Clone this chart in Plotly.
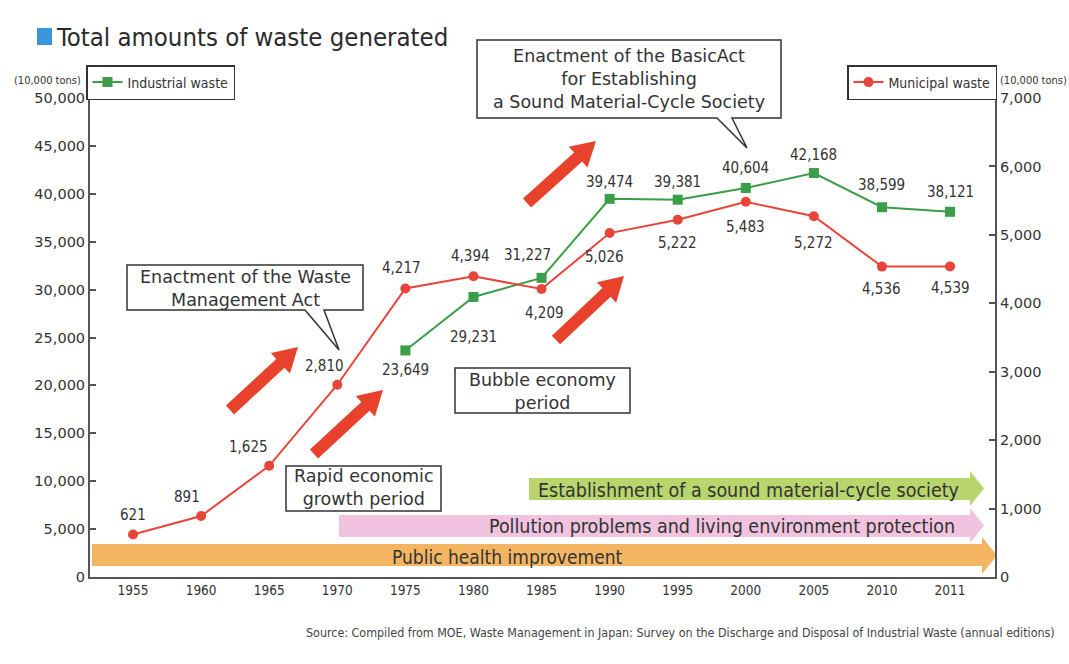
import math
import plotly.graph_objects as go

# ---------------- data ----------------
years = ["1955", "1960", "1965", "1970", "1975", "1980", "1985",
         "1990", "1995", "2000", "2005", "2010", "2011"]
municipal = [621, 891, 1625, 2810, 4217, 4394, 4209, 5026, 5222, 5483, 5272, 4536, 4539]
industrial_years = ["1975", "1980", "1985", "1990", "1995", "2000", "2005", "2010", "2011"]
industrial = [23649, 29231, 31227, 39474, 39381, 40604, 42168, 38599, 38121]
left_ticks = [0, 5000, 10000, 15000, 20000, 25000, 30000, 35000, 40000, 45000, 50000]
right_ticks = [0, 1000, 2000, 3000, 4000, 5000, 6000, 7000]

# label offsets (pixels) - styling only
mun_shift = [(0, 20), (-14, 19), (-21, 19), (-13, 19), (-4, 20), (-3, 20), (3, -24),
             (-5, -24), (0, -23), (0, -25), (0, -27), (0, -22), (0, -22)]
ind_shift = [(0, -20), (0, -40), (-14, 23), (0, 17), (0, 18), (0, 20), (0, 18), (0, 22), (0, 20)]

GREEN = "#3a9d48"
RED = "#e8453a"
TXT = "#333333"
COND = "DejaVu Sans Condensed, Liberation Sans Narrow, DejaVu Sans, sans-serif"
SANS = "DejaVu Sans, Verdana, sans-serif"

# plot-area pixel frame
L, R, T, B = 90, 995, 98, 577
W, H = 1069, 664


def px(x):
    return (x - L) / (R - L)


def py(y):
    return (B - y) / (B - T)


def path_from(pts):
    return "M " + " L ".join(f"{px(x):.5f},{py(y):.5f}" for x, y in pts) + " Z"


def diag_arrow(x0, y0, x1, y1, sw=12, hw=28, hl=24):
    dx, dy = x1 - x0, y1 - y0
    ln = math.hypot(dx, dy)
    ux, uy = dx / ln, dy / ln
    nx, ny = -uy, ux
    bx, by = x1 - ux * hl, y1 - uy * hl
    pts = [(x0 + nx * sw / 2, y0 + ny * sw / 2), (bx + nx * sw / 2, by + ny * sw / 2),
           (bx + nx * hw / 2, by + ny * hw / 2), (x1, y1),
           (bx - nx * hw / 2, by - ny * hw / 2), (bx - nx * sw / 2, by - ny * sw / 2),
           (x0 - nx * sw / 2, y0 - ny * sw / 2)]
    return path_from(pts)


def band_arrow(x0, xe, yt, yb, ht, hb, tip):
    pts = [(x0, yt), (xe, yt), (xe, ht), (tip, (ht + hb) / 2), (xe, hb), (xe, yb), (x0, yb)]
    return path_from(pts)


fig = go.Figure()

fig.add_trace(go.Scatter(
    x=industrial_years, y=industrial, name="Industrial waste", mode="lines+markers",
    line=dict(color=GREEN, width=2), marker=dict(symbol="square", size=10, color=GREEN),
    yaxis="y", legend="legend", showlegend=True, hoverinfo="skip"))
fig.add_trace(go.Scatter(
    x=years, y=municipal, name="Municipal waste", mode="lines+markers",
    line=dict(color=RED, width=2), marker=dict(symbol="circle", size=10, color=RED),
    yaxis="y2", legend="legend2", showlegend=True, hoverinfo="skip"))

shapes = []
# band arrows (behind)
shapes.append(dict(type="path", xref="paper", yref="paper", layer="below",
                   path=band_arrow(529, 970, 478, 500, 471, 506, 984),
                   fillcolor="#b9d56e", line=dict(width=0)))
shapes.append(dict(type="path", xref="paper", yref="paper", layer="below",
                   path=band_arrow(339, 970, 515, 537, 508, 543, 984),
                   fillcolor="#f1c3de", line=dict(width=0)))
shapes.append(dict(type="path", xref="paper", yref="paper", layer="below",
                   path=band_arrow(92, 982, 544, 566, 537, 574, 997),
                   fillcolor="#f4b562", line=dict(width=0)))
# red diagonal arrows
for (a, b, c, d) in [(230, 410, 298, 347), (314, 454, 383, 390),
                     (527, 203, 596, 141), (556, 340, 624, 276)]:
    shapes.append(dict(type="path", xref="paper", yref="paper",
                       path=diag_arrow(a, b, c, d), fillcolor="#e8412c", line=dict(width=0)))
# callout boxes
box_line = dict(color="#333333", width=1.5)
shapes.append(dict(type="path", xref="paper", yref="paper", fillcolor="white", line=box_line,
                   path=path_from([(127, 265), (363, 265), (363, 310), (324, 310), (339, 350),
                                   (305, 310), (127, 310)])))
shapes.append(dict(type="path", xref="paper", yref="paper", fillcolor="white", line=box_line,
                   path=path_from([(477, 40), (781, 40), (781, 118), (732, 118), (747, 148),
                                   (717, 118), (477, 118)])))
shapes.append(dict(type="path", xref="paper", yref="paper", fillcolor="white", line=box_line,
                   path=path_from([(455, 368), (630, 368), (630, 413), (455, 413)])))
shapes.append(dict(type="path", xref="paper", yref="paper", fillcolor="white", line=box_line,
                   path=path_from([(286, 466), (441, 466), (441, 511), (286, 511)])))
# title square
shapes.append(dict(type="path", xref="paper", yref="paper", fillcolor="#3b97d9", line=dict(width=0),
                   path=path_from([(37, 28), (52, 28), (52, 45), (37, 45)])))

ann = []


def txt(x, y, s, size, family=SANS, xanchor="center", color=TXT):
    ann.append(dict(x=px(x), y=py(y), xref="paper", yref="paper", text=s, showarrow=False,
                    xanchor=xanchor, yanchor="middle", font=dict(size=size, family=family, color=color)))


# data labels (category axis -> use category index)
for i, v in enumerate(municipal):
    ann.append(dict(x=years.index(years[i]), y=v, xref="x", yref="y2", text=f"{v:,}",
                    showarrow=False, xshift=mun_shift[i][0], yshift=mun_shift[i][1],
                    font=dict(size=15, family=COND, color=TXT)))
for i, v in enumerate(industrial):
    ann.append(dict(x=years.index(industrial_years[i]), y=v, xref="x", yref="y", text=f"{v:,}",
                    showarrow=False, xshift=ind_shift[i][0], yshift=ind_shift[i][1],
                    font=dict(size=15, family=COND, color=TXT)))

# title
txt(54, 37, "Total amounts of waste generated", 25.5, family=COND, xanchor="left", color="#2b2b2b")
# unit labels
txt(47, 80, "(10,000 tons)", 11, family=COND)
txt(1033, 80, "(10,000 tons)", 11, family=COND)
# callout texts
CS = 17.5
txt(245, 288, "Enactment of the Waste<br>Management Act", CS)
txt(629, 79, "Enactment of the BasicAct<br>for Establishing<br>a Sound Material-Cycle Society", CS)
txt(542, 391, "Bubble economy<br>period", CS)
txt(364, 488, "Rapid economic<br>growth period", CS)
# band texts
txt(961, 490, "Establishment of a sound material-cycle society", 19.5, family=COND, xanchor="right")
txt(957, 526, "Pollution problems and living environment protection", 19.5, family=COND, xanchor="right")
txt(390, 557, "Public health improvement", 19, family=COND, xanchor="left")
# source
txt(1057, 632, "Source: Compiled from MOE, Waste Management in Japan: Survey on the Discharge and "
    "Disposal of Industrial Waste (annual editions)", 12.4, family=COND, xanchor="right", color="#444444")

axis_common = dict(showgrid=False, zeroline=False, showline=True, linecolor="#555555", linewidth=2,
                   ticks="inside", ticklen=6, tickwidth=1.5, tickcolor="#555555",
                   tickfont=dict(size=14.5, family=SANS, color=TXT))

fig.update_layout(
    width=W, height=H,
    margin=dict(l=L, r=W - R, t=T, b=H - B, autoexpand=False),
    paper_bgcolor="white", plot_bgcolor="white",
    showlegend=True,
    xaxis=dict(type="category", categoryorder="array", categoryarray=years,
               range=[-0.632, 12.66], showgrid=False, zeroline=False, showline=True,
               linecolor="#555555", linewidth=2, ticks="",
               tickfont=dict(size=13.5, family=COND, color=TXT)),
    yaxis=dict(range=[0, 50000], tickvals=left_ticks, ticktext=[f"{v:,}" for v in left_ticks],
               **axis_common),
    yaxis2=dict(range=[0, 7000], tickvals=right_ticks, ticktext=[f"{v:,}" for v in right_ticks],
                overlaying="y", side="right", **axis_common),
    legend=dict(x=px(86), y=py(65), xanchor="left", yanchor="top", orientation="h",
                bordercolor="#333333", borderwidth=1.5, bgcolor="white",
                font=dict(size=14, family=COND, color=TXT), itemwidth=30),
    legend2=dict(x=px(997), y=py(65), xanchor="right", yanchor="top", orientation="h",
                 bordercolor="#333333", borderwidth=1.5, bgcolor="white",
                 font=dict(size=14, family=COND, color=TXT), itemwidth=30),
    shapes=shapes,
    annotations=ann,
)

fig.write_html("out.html", config={"displayModeBar": False},
               post_script="document.body.style.margin='0';")
